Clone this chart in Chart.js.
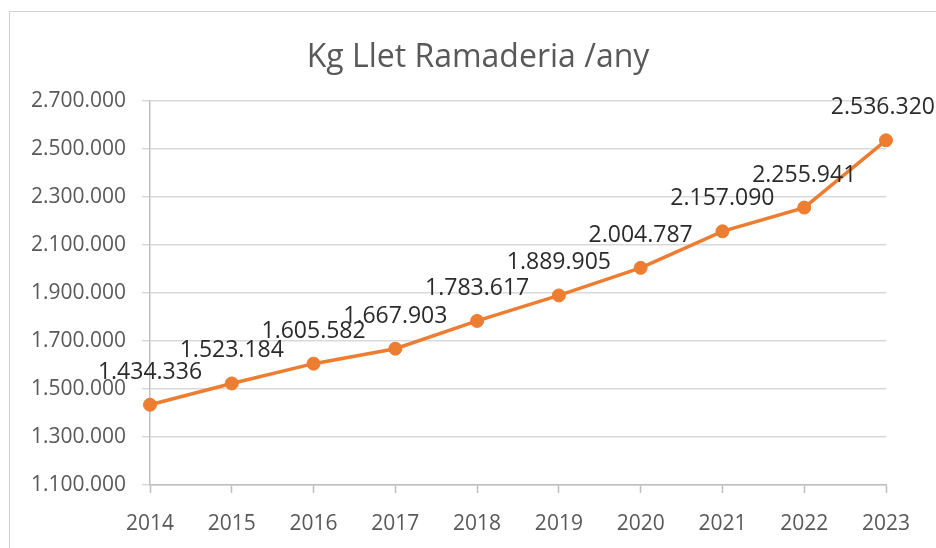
<!DOCTYPE html>
<html>
<head>
<meta charset="utf-8">
<script src="https://cdn.jsdelivr.net/npm/chart.js@4"></script>
<style>
html,body{margin:0;padding:0;background:#fff;overflow:hidden;width:936px;height:548px;}
#wrap{position:relative;width:936px;height:548px;}
#frame{position:absolute;left:9px;top:11px;width:960px;height:580px;border:1.5px solid #d0d0d0;box-sizing:border-box;}
canvas{position:absolute;left:0;top:0;}
</style>
</head>
<body>
<div id="wrap">
<div id="frame"></div>
<canvas id="c" width="936" height="548"></canvas>
</div>
<script>
const titleText = "Kg Llet Ramaderia /any";
const years = ["2014","2015","2016","2017","2018","2019","2020","2021","2022","2023"];
const milk = [1434336,1523184,1605582,1667903,1783617,1889905,2004787,2157090,2255941,2536320];
const yMin = 1100000, yMax = 2700000, yStep = 200000;

function fmt(v){ return String(Math.round(v)).replace(/\B(?=(\d{3})+(?!\d))/g, "."); }

const FONT = "'Open Sans', 'DejaVu Sans', sans-serif";

const titlePlugin = {
  id: 'titleText',
  afterDraw(chart){
    const ctx = chart.ctx;
    ctx.save();
    ctx.font = "32px " + FONT;
    ctx.fillStyle = "#595959";
    ctx.textAlign = "center";
    ctx.textBaseline = "alphabetic";
    ctx.fillText(titleText, 478, 67);
    ctx.restore();
  }
};

const labelPlugin = {
  id: 'valueLabels',
  afterDatasetsDraw(chart){
    const ctx = chart.ctx;
    const meta = chart.getDatasetMeta(0);
    ctx.save();
    ctx.font = "23px " + FONT;
    ctx.fillStyle = "#2b2b2b";
    ctx.textAlign = "center";
    ctx.textBaseline = "alphabetic";
    meta.data.forEach((pt, i) => {
      const txt = fmt(milk[i]);
      const w = ctx.measureText(txt).width;
      let x = pt.x;
      if (x + w/2 > chart.width - 1) x = chart.width - 1 - w/2;
      ctx.fillText(txt, x, pt.y - 26);
    });
    ctx.restore();
  }
};

new Chart(document.getElementById('c'), {
  type: 'line',
  data: {
    labels: years,
    datasets: [{
      data: milk,
      borderColor: '#ED7D31',
      backgroundColor: '#ED7D31',
      borderWidth: 3.5,
      pointRadius: 6.5,
      pointBorderWidth: 1,
      pointBorderColor: '#ED7D31',
      pointBackgroundColor: '#ED7D31',
      tension: 0,
      fill: false
    }]
  },
  options: {
    responsive: false,
    animation: false,
    devicePixelRatio: 1,
    layout: { padding: { left: 0, right: 50, top: 101, bottom: 0 } },
    plugins: { legend: { display: false }, title: { display: false }, tooltip: { enabled: false } },
    scales: {
      x: {
        offset: false,
        grid: { display: true, drawOnChartArea: false, drawTicks: true, tickLength: 8, tickColor: '#bfbfbf', tickWidth: 1.5 },
        border: { display: true, color: '#bfbfbf', width: 1.5 },
        ticks: { color: '#595959', font: { family: FONT, size: 21 }, padding: 18, maxRotation: 0, autoSkip: false },
        afterFit(s){ s.height = 548 - 485; }
      },
      y: {
        min: yMin, max: yMax,
        grid: { color: '#d9d9d9', lineWidth: 1.5, tickLength: 8, tickColor: '#d9d9d9' },
        border: { display: true, color: '#bfbfbf', width: 1.5 },
        ticks: { stepSize: yStep, color: '#595959', font: { family: FONT, size: 21 }, padding: 16, callback: v => fmt(v) },
        afterFit(s){ s.width = 150; }
      }
    }
  },
  plugins: [titlePlugin, labelPlugin]
});
</script>
</body>
</html>
